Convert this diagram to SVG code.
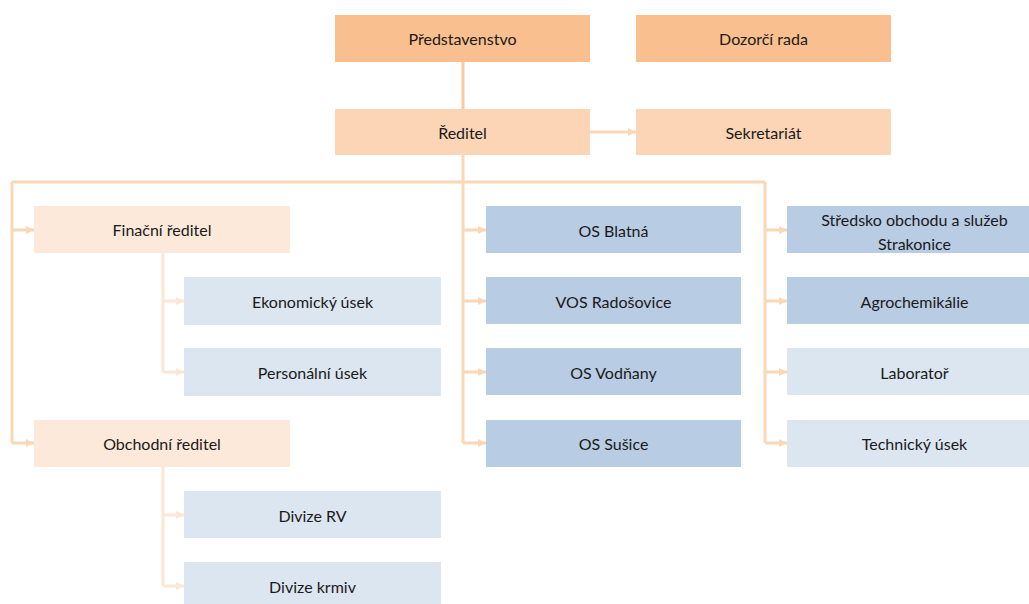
<svg xmlns="http://www.w3.org/2000/svg" width="1029" height="604" viewBox="0 0 1029 604">
<defs>
<marker id="ah" markerWidth="8" markerHeight="8" refX="8" refY="4" orient="auto" markerUnits="userSpaceOnUse"><path d="M0,0 L8,4 L0,8 Z" fill="#FAD7B5"/></marker>
<marker id="ahl" markerWidth="8" markerHeight="8" refX="8" refY="4" orient="auto" markerUnits="userSpaceOnUse"><path d="M0,0 L8,4 L0,8 Z" fill="#FDE6D3"/></marker>
<style>
text{font-family:Lato,"Liberation Sans",sans-serif;font-size:16px;fill:#1a1a1a;text-anchor:middle;dominant-baseline:central}
.o1{fill:#F9BF8F}.o2{fill:#FBD5B5}.o3{fill:#FDE9D9}.b1{fill:#B8CCE4}.b2{fill:#DCE6F1}
.c{fill:none;stroke:#FAD7B5;stroke-width:3}
.cl{fill:none;stroke:#FDE6D3;stroke-width:3}
.ca{fill:none;stroke:#FAD7B5;stroke-width:3;marker-end:url(#ah)}
.cla{fill:none;stroke:#FDE6D3;stroke-width:3;marker-end:url(#ahl)}
</style>
</defs>
<rect width="1029" height="604" fill="#fff"/>
<g id="connectors">
<path class="c" d="M463,62 V109" style="stroke:#F9C9A2"/>
<path class="ca" d="M590,132 H636"/>
<path class="c" d="M463,155 V443"/>
<path class="c" d="M12,182 H765"/>
<path class="c" d="M12,182 V443"/>
<path class="c" d="M765,182 V443"/>
<path class="ca" d="M12,230 H34"/>
<path class="ca" d="M12,443 H34"/>
<path class="ca" d="M463,230 H486"/>
<path class="ca" d="M463,301 H486"/>
<path class="ca" d="M463,372 H486"/>
<path class="ca" d="M463,443 H486"/>
<path class="ca" d="M765,230 H787"/>
<path class="ca" d="M765,301 H787"/>
<path class="ca" d="M765,372 H787"/>
<path class="ca" d="M765,443 H787"/>
<path class="cl" d="M163,253 V372"/>
<path class="cla" d="M163,301 H184"/>
<path class="cla" d="M163,372 H184"/>
<path class="cl" d="M163,467 V586"/>
<path class="cla" d="M163,515 H184"/>
<path class="cla" d="M163,586 H184"/>
</g>
<g id="predstavenstvo"><rect class="o1" x="335" y="15" width="255" height="47"/><text x="462.5" y="38.5">Představenstvo</text></g>
<g id="dozorci-rada"><rect class="o1" x="636" y="15" width="255" height="47"/><text x="763.5" y="38.5">Dozorčí rada</text></g>
<g id="reditel"><rect class="o2" x="335" y="109" width="255" height="46"/><text x="462.5" y="132">Ředitel</text></g>
<g id="sekretariat"><rect class="o2" x="636" y="109" width="255" height="46"/><text x="763.5" y="132">Sekretariát</text></g>
<g id="financni-reditel"><rect class="o3" x="34" y="206" width="256" height="47"/><text x="162" y="229.5">Finační ředitel</text></g>
<g id="ekonomicky-usek"><rect class="b2" x="184" y="277" width="257" height="48"/><text x="312.5" y="301">Ekonomický úsek</text></g>
<g id="personalni-usek"><rect class="b2" x="184" y="348" width="257" height="48"/><text x="312.5" y="372">Personální úsek</text></g>
<g id="obchodni-reditel"><rect class="o3" x="34" y="420" width="256" height="47"/><text x="162" y="443.5">Obchodní ředitel</text></g>
<g id="divize-rv"><rect class="b2" x="184" y="491" width="257" height="47"/><text x="312.5" y="515">Divize RV</text></g>
<g id="divize-krmiv"><rect class="b2" x="184" y="562" width="257" height="47"/><text x="312.5" y="586">Divize krmiv</text></g>
<g id="os-blatna"><rect class="b1" x="486" y="206" width="255" height="47"/><text x="613.5" y="230">OS Blatná</text></g>
<g id="vos-radosovice"><rect class="b1" x="486" y="277" width="255" height="47"/><text x="613.5" y="301">VOS Radošovice</text></g>
<g id="os-vodnany"><rect class="b1" x="486" y="348" width="255" height="47"/><text x="613.5" y="372">OS Vodňany</text></g>
<g id="os-susice"><rect class="b1" x="486" y="420" width="255" height="47"/><text x="613.5" y="443">OS Sušice</text></g>
<g id="stredisko"><rect class="b1" x="787" y="206" width="255" height="47"/><text x="914.5" y="219">Středsko obchodu a služeb</text><text x="914.5" y="243">Strakonice</text></g>
<g id="agrochemikalie"><rect class="b1" x="787" y="277" width="255" height="47"/><text x="914.5" y="301">Agrochemikálie</text></g>
<g id="laborator"><rect class="b2" x="787" y="348" width="255" height="47"/><text x="914.5" y="372">Laboratoř</text></g>
<g id="technicky-usek"><rect class="b2" x="787" y="420" width="255" height="47"/><text x="914.5" y="443">Technický úsek</text></g>
</svg>
